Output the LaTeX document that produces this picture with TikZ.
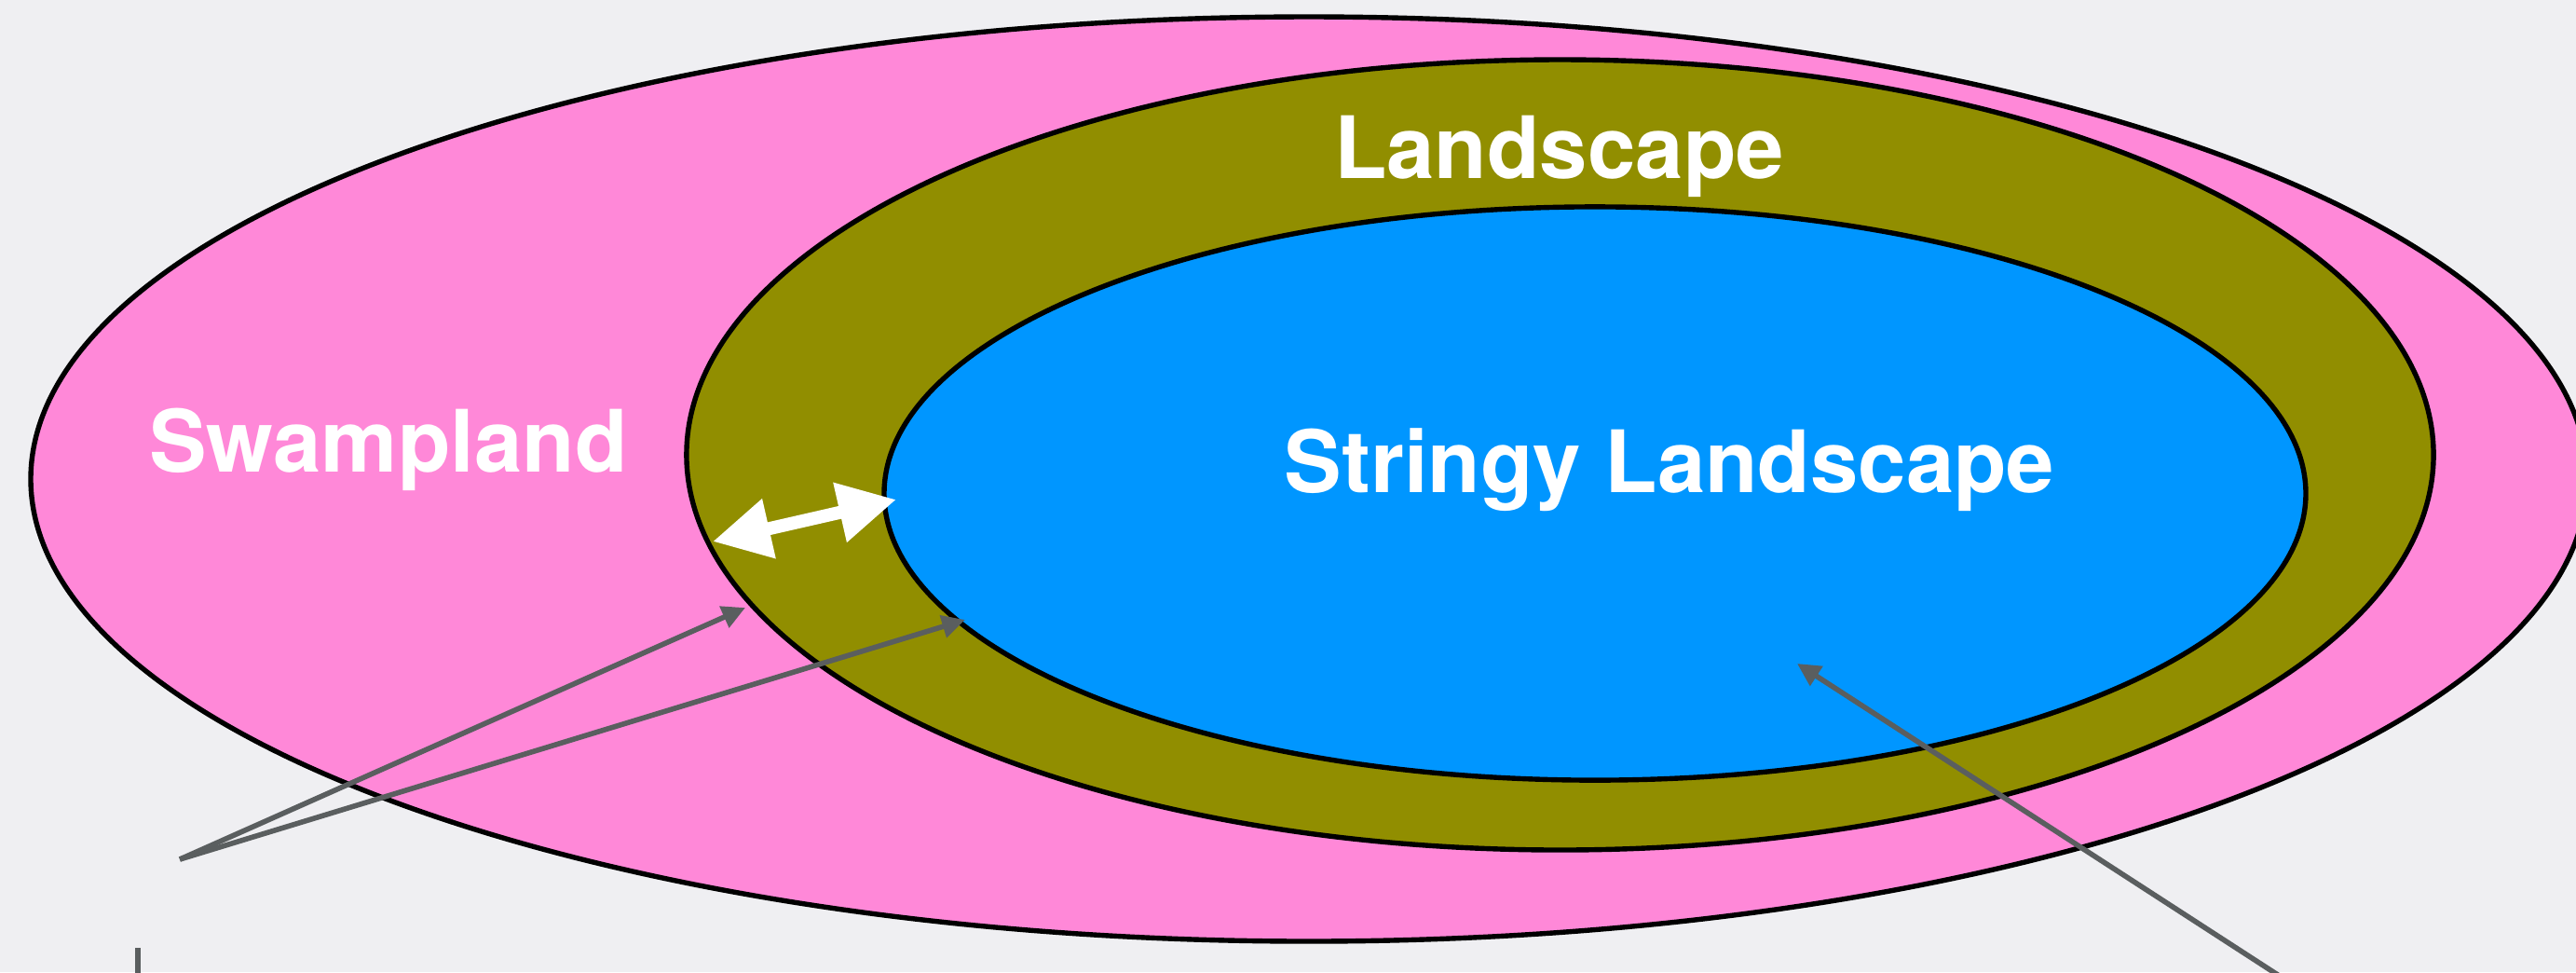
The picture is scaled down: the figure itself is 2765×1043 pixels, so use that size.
\documentclass[tikz,border=0pt]{standalone}
\usepackage{fontspec}
\setmainfont{TeX Gyre Heros}
\usetikzlibrary{arrows.meta}
\definecolor{bgc}{RGB}{239,239,242}
\definecolor{pinkc}{RGB}{255,136,216}
\definecolor{olivec}{RGB}{145,142,0}
\definecolor{bluec}{RGB}{0,150,255}
\definecolor{arrowc}{RGB}{90,94,95}
\tikzset{
  region/.style={draw=black, line width=1.35pt},
  lbl/.style={text=white, font=\fontsize{23.1pt}{27pt}\selectfont\bfseries, anchor=base, inner sep=0pt},
  pointer/.style={draw=arrowc, line width=1.4pt, -{Triangle[length=6.2pt,width=6pt]}},
  pline/.style={draw=arrowc, line width=1.5pt},
  twoway/.style={draw=white, line width=3.5pt, {Triangle[length=15.5pt,width=15.5pt]}-{Triangle[length=15.5pt,width=15.5pt]}}
}
\begin{document}
\begin{tikzpicture}[x=0.25pt,y=-0.25pt]
\fill[bgc] (0,0) rectangle (2765,1043);
\useasboundingbox (0,0) rectangle (2765,1043);
\clip (0,0) rectangle (2765,1043);
% regions
\coordinate (cout) at (1405,514);
\coordinate (cmid) at (1674.5,488);
\coordinate (cin) at (1712,529.5);
\path[region, fill=pinkc] (cout) ellipse [x radius=343pt, y radius=124pt];
\path[region, fill=olivec] (cmid) ellipse [x radius=234.4pt, y radius=106pt];
\path[region, fill=bluec] (cin) ellipse [x radius=190.75pt, y radius=76.9pt];
% labels
\node[lbl] (swamp) at (417,506) {Swampland};
\node[lbl] (land) at (1673.5,191) {Landscape};
\node[lbl] (string) at (1792,528) {Stringy Landscape};
% white double arrow
\coordinate (dl) at (765,581);
\coordinate (dr) at (962,536);
\draw[twoway] (dl) -- (dr);
% gray pointers
\coordinate (src) at (193,922);
\coordinate (tipA) at (800,652);
\coordinate (tipB) at (1036,665);
\draw[pointer] (src) -- (tipA);
\draw[pointer] (src) -- (tipB);
\coordinate (src2) at (2448,1048);
\coordinate (tipC) at (1929,712);
\draw[pointer] (src2) -- (tipC);
\coordinate (vtop) at (148,1017);
\coordinate (vbot) at (148,1050);
\draw[pline] (vtop) -- (vbot);
\end{tikzpicture}
\end{document}
